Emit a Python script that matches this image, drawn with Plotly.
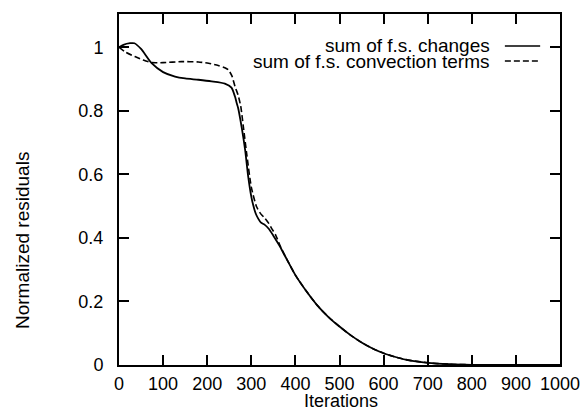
import plotly.graph_objects as go

# ---- data ----
iter_changes = [0, 10, 25, 35, 50, 74, 100, 127, 150, 180, 210, 240, 255, 263, 267, 270, 278, 286,
                293, 300, 304, 310, 316, 322, 330, 340, 350, 365, 380, 400, 425, 450, 475, 500,
                525, 550, 575, 600, 625, 650, 700, 750, 800, 850, 900, 1000]
res_changes = [1.0, 1.008, 1.013, 1.013, 0.995, 0.950, 0.922, 0.908, 0.902, 0.898, 0.893, 0.886,
               0.873, 0.845, 0.824, 0.81, 0.75, 0.677, 0.593, 0.53, 0.505, 0.477, 0.46, 0.448,
               0.442, 0.428, 0.407, 0.373, 0.334, 0.283, 0.232, 0.187, 0.151, 0.121, 0.094,
               0.071, 0.052, 0.037, 0.026, 0.017, 0.007, 0.0025, 0.0007, 0.0001, 0.0, 0.0]

iter_conv = [0, 15, 36, 55, 74, 100, 142, 180, 203, 225, 240, 248, 256, 263, 270, 276, 282, 290,
             300, 312, 322, 331, 340, 346, 355, 366, 380, 400, 425, 450, 475, 500, 525, 550, 575,
             600, 625, 650, 700, 750, 800, 850, 900, 1000]
res_conv = [1.0, 0.985, 0.971, 0.96, 0.952, 0.952, 0.955, 0.954, 0.950, 0.943, 0.936, 0.929, 0.91,
            0.877, 0.85, 0.815, 0.75, 0.66, 0.56, 0.498, 0.475, 0.462, 0.445, 0.43, 0.41, 0.373,
            0.334, 0.283, 0.232, 0.187, 0.151, 0.121, 0.094, 0.071, 0.052, 0.037, 0.026, 0.017,
            0.007, 0.0025, 0.0007, 0.0001, 0.0, 0.0]

x_ticks = [0, 100, 200, 300, 400, 500, 600, 700, 800, 900, 1000]
y_ticks = [0, 0.2, 0.4, 0.6, 0.8, 1]
y_tick_text = ["0", "0.2", "0.4", "0.6", "0.8", "1"]

series_names = ["sum of f.s. changes", "sum of f.s. convection terms"]

FONT = "Liberation Sans, Arial, Helvetica, sans-serif"

fig = go.Figure()
fig.add_trace(go.Scatter(x=iter_changes, y=res_changes, mode="lines", name=series_names[0],
                         line=dict(color="black", width=1.8, shape="spline", smoothing=0.6),
                         showlegend=False))
fig.add_trace(go.Scatter(x=iter_conv, y=res_conv, mode="lines", name=series_names[1],
                         line=dict(color="black", width=1.6, dash="6px,3px", shape="spline",
                                   smoothing=0.6),
                         showlegend=False))

axis_common = dict(showline=True, linecolor="black", linewidth=2, mirror="ticks",
                   ticks="inside", ticklen=10, tickwidth=2, tickcolor="black",
                   showgrid=False, zeroline=False, automargin=False,
                   tickfont=dict(family=FONT, size=18, color="black"))

fig.update_xaxes(range=[0, 1000], tickvals=x_ticks, ticklabelstandoff=1, **axis_common)
fig.update_yaxes(range=[0, 1.105], tickvals=y_ticks, ticktext=y_tick_text,
                 ticklabelstandoff=10, **axis_common)

annotations = [
    dict(text="Iterations", xref="paper", yref="paper", x=0.503, y=-0.103,
         xanchor="center", yanchor="middle", showarrow=False,
         font=dict(family=FONT, size=18, color="black")),
    dict(text="Normalized residuals", xref="paper", yref="paper", x=-0.22, y=0.356,
         xanchor="center", yanchor="middle", textangle=-90, showarrow=False,
         font=dict(family=FONT, size=19, color="black")),
]
legend_y = [0.909, 0.866]
legend_dash = ["solid", "6px,3px"]
shapes = []
for name, ly, dsh in zip(series_names, legend_y, legend_dash):
    annotations.append(dict(text=name, xref="paper", yref="paper", x=0.846, y=ly,
                            xanchor="right", yanchor="middle", showarrow=False,
                            font=dict(family=FONT, size=19, color="black")))
    shapes.append(dict(type="line", xref="paper", yref="paper", x0=0.875, x1=0.955,
                       y0=ly, y1=ly, line=dict(color="black", width=1.6, dash=dsh)))

fig.update_layout(width=583, height=412,
                  margin=dict(l=119, r=23, t=14, b=47, autoexpand=False),
                  paper_bgcolor="white", plot_bgcolor="white",
                  annotations=annotations, shapes=shapes,
                  font=dict(family=FONT, color="black"))

fig.write_html("out.html")
